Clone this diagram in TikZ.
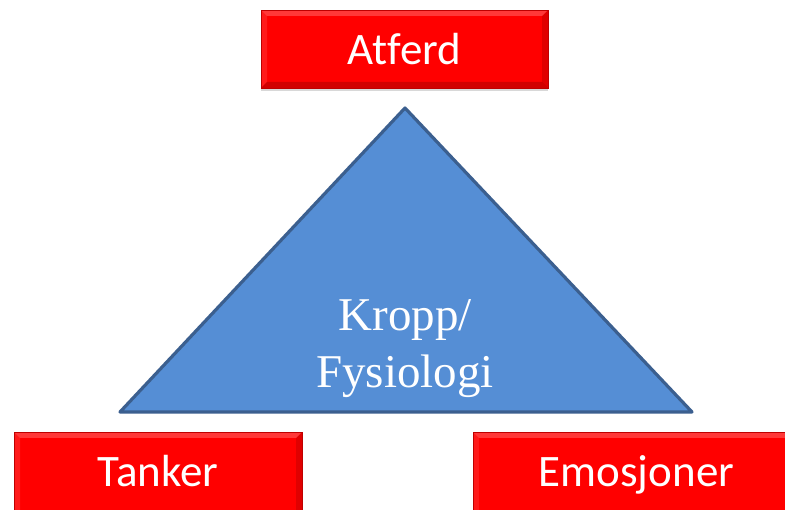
\documentclass[tikz,border=0pt]{standalone}
\usepackage{fontspec}
\setmainfont{Liberation Serif}
\newfontfamily\boxfont[Ligatures={NoCommon}]{Carlito}
\usetikzlibrary{shadows}
\definecolor{trifill}{HTML}{558ED5}
\definecolor{triedge}{HTML}{3B5F8F}
\definecolor{boxred}{HTML}{FF0000}
\tikzset{
  bevel/.style={path picture={
    \fill[white,opacity=0.22] (path picture bounding box.north west) -- (path picture bounding box.north east)
      -- ([xshift=-6pt,yshift=-6pt]path picture bounding box.north east) -- ([xshift=6pt,yshift=-6pt]path picture bounding box.north west) -- cycle;
    \fill[black,opacity=0.18] (path picture bounding box.south west) -- (path picture bounding box.south east)
      -- ([xshift=-6pt,yshift=6pt]path picture bounding box.south east) -- ([xshift=6pt,yshift=6pt]path picture bounding box.south west) -- cycle;
    \fill[white,opacity=0.10] (path picture bounding box.north west) -- ([xshift=6pt,yshift=-6pt]path picture bounding box.north west)
      -- ([xshift=6pt,yshift=6pt]path picture bounding box.south west) -- (path picture bounding box.south west) -- cycle;
    \fill[black,opacity=0.12] (path picture bounding box.north east) -- ([xshift=-6pt,yshift=-6pt]path picture bounding box.north east)
      -- ([xshift=-6pt,yshift=6pt]path picture bounding box.south east) -- (path picture bounding box.south east) -- cycle;
  }},
  redbox/.style={rectangle, fill=boxred, draw=boxred!75!black, line width=0.6pt, bevel,
    drop shadow={opacity=0.3, shadow xshift=0pt, shadow yshift=-3pt},
    text=white, font=\boxfont\fontsize{45}{54}\selectfont,
    text height=55pt, inner sep=0pt, anchor=base},
  tri/.style={fill=trifill, draw=triedge, line width=3.2pt, line join=round},
  trilabel/.style={text=white, align=center, font=\fontsize{47}{57}\selectfont, inner sep=0pt}
}
\begin{document}
\begin{tikzpicture}[x=1pt,y=-1pt]
\useasboundingbox (0,0) rectangle (785,510);
\clip (0,0) rectangle (785,510);
\fill[white] (0,0) rectangle (785,510);

\node[redbox, minimum width=287pt, text depth=23pt] (atferd) at (404.5,65) {Atferd};
\node[redbox, minimum width=288pt, text depth=40pt] (tanker) at (158,487) {Tanker};
\node[redbox, minimum width=327pt, text depth=40pt] (emosjoner) at (636.5,487) {Emosjoner};

\coordinate (apex) at (405,108);
\coordinate (bl) at (120,412);
\coordinate (br) at (692,412);
\draw[tri] (apex) -- (br) -- (bl) -- cycle;
\node[trilabel] (kropp) at (405,349) {Kropp/\\Fysiologi};
\end{tikzpicture}
\end{document}
